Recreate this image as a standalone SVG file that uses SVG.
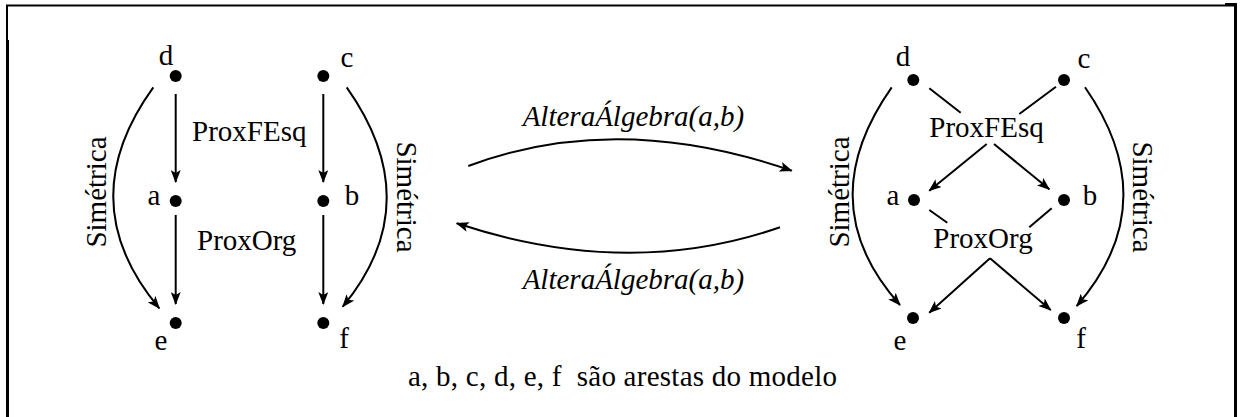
<svg xmlns="http://www.w3.org/2000/svg" width="1245" height="417" viewBox="0 0 1245 417" font-family="'Liberation Serif', Tinos, 'Times New Roman', 'DejaVu Serif', serif">
  <style>
    .lbl { font-family: 'Liberation Serif', Tinos, 'Times New Roman', 'DejaVu Serif', serif; font-size: 29px; fill: #000; }
    .it { font-style: italic; }
    .dot { fill: #000; }
    .edge { fill: none; stroke: #000; stroke-width: 2; }
    .frame { fill: none; stroke: #000; }
  </style>
  <defs>
    <marker id="arrow" markerUnits="userSpaceOnUse" markerWidth="14" markerHeight="10" refX="12" refY="5" orient="auto">
      <path d="M0,0 L13,5 L0,10 L3,5 z" fill="#000"/>
    </marker>
  </defs>
  <rect width="1245" height="417" fill="#fff"/>

  <!-- frame -->
  <g id="frame">
    <line class="frame" x1="6" y1="5.5" x2="1236" y2="5.5" stroke-width="2"/>
    <line class="frame" x1="1225" y1="4" x2="1237" y2="4" stroke-width="2"/>
    <line class="frame" x1="7" y1="5" x2="7" y2="40" stroke-width="2" stroke="#777"/>
    <line class="frame" x1="7.5" y1="40" x2="7.5" y2="417" stroke-width="3"/>
    <line class="frame" x1="1235.5" y1="3" x2="1235.5" y2="417" stroke-width="3"/>
  </g>

  <!-- left graph nodes -->
  <g id="L_d"><circle class="dot" cx="175.7" cy="76" r="6"/><text class="lbl" x="166" y="65" text-anchor="middle">d</text></g>
  <g id="L_c"><circle class="dot" cx="323.3" cy="76" r="6"/><text class="lbl" x="347" y="67" text-anchor="middle">c</text></g>
  <g id="L_a"><circle class="dot" cx="175.7" cy="201" r="6"/><text class="lbl" x="154" y="205" text-anchor="middle">a</text></g>
  <g id="L_b"><circle class="dot" cx="323.3" cy="201" r="6"/><text class="lbl" x="352" y="205" text-anchor="middle">b</text></g>
  <g id="L_e"><circle class="dot" cx="175.7" cy="323" r="6"/><text class="lbl" x="161" y="350" text-anchor="middle">e</text></g>
  <g id="L_f"><circle class="dot" cx="323.3" cy="323" r="6"/><text class="lbl" x="344" y="348" text-anchor="middle">f</text></g>

  <!-- right graph nodes -->
  <g id="R_d"><circle class="dot" cx="913.3" cy="80" r="6"/><text class="lbl" x="903" y="66" text-anchor="middle">d</text></g>
  <g id="R_c"><circle class="dot" cx="1064" cy="80" r="6"/><text class="lbl" x="1084" y="68" text-anchor="middle">c</text></g>
  <g id="R_a"><circle class="dot" cx="914" cy="200" r="6"/><text class="lbl" x="893" y="205" text-anchor="middle">a</text></g>
  <g id="R_b"><circle class="dot" cx="1064" cy="200" r="6"/><text class="lbl" x="1090" y="205" text-anchor="middle">b</text></g>
  <g id="R_e"><circle class="dot" cx="913" cy="318" r="6"/><text class="lbl" x="900" y="350" text-anchor="middle">e</text></g>
  <g id="R_f"><circle class="dot" cx="1064" cy="318" r="6"/><text class="lbl" x="1081" y="348" text-anchor="middle">f</text></g>

  <!-- connectors -->
  <g id="connectors">
    <!-- left graph -->
    <line class="edge" x1="175.7" y1="94" x2="175.7" y2="182" marker-end="url(#arrow)"/>
    <line class="edge" x1="175.7" y1="215" x2="175.7" y2="304" marker-end="url(#arrow)"/>
    <line class="edge" x1="323.3" y1="94" x2="323.3" y2="182" marker-end="url(#arrow)"/>
    <line class="edge" x1="323.3" y1="215" x2="323.3" y2="304" marker-end="url(#arrow)"/>
    <path class="edge" d="M153.3,87.3 Q70.3,202.2 159.3,308.3" marker-end="url(#arrow)"/>
    <path class="edge" d="M346.7,87.3 Q428.7,203 342.7,306.7" marker-end="url(#arrow)"/>

    <!-- transformation arrows -->
    <path class="edge" d="M468.3,166 Q616.6,110.2 791.7,170.7" marker-end="url(#arrow)"/>
    <path class="edge" d="M780,227.3 Q628.3,280.1 456.7,223.3" marker-end="url(#arrow)"/>

    <!-- right graph: d->b, c->a (broken by label) -->
    <line class="edge" x1="929.3" y1="88.3" x2="960.7" y2="112.7"/>
    <line class="edge" x1="994" y1="144" x2="1049.3" y2="189.3" marker-end="url(#arrow)"/>
    <line class="edge" x1="1056" y1="86.7" x2="1019.3" y2="114"/>
    <line class="edge" x1="986.7" y1="144" x2="929.3" y2="190.7" marker-end="url(#arrow)"/>
    <!-- right graph: a->f, b->e -->
    <line class="edge" x1="929.3" y1="210" x2="947.3" y2="222.7"/>
    <line class="edge" x1="990" y1="258.3" x2="1050.7" y2="310" marker-end="url(#arrow)"/>
    <line class="edge" x1="1051.7" y1="208.3" x2="1029.3" y2="227.3"/>
    <line class="edge" x1="990" y1="258.3" x2="929.3" y2="312.7" marker-end="url(#arrow)"/>
    <path class="edge" d="M891.7,87.3 Q809.6,203.9 900,305" marker-end="url(#arrow)"/>
    <path class="edge" d="M1085,87.3 Q1165.8,203.4 1076.7,306" marker-end="url(#arrow)"/>
  </g>

  <!-- edge labels -->
  <g id="labels">
    <text class="lbl" x="192" y="141">ProxFEsq</text>
    <text class="lbl" x="197" y="250">ProxOrg</text>
    <text class="lbl" transform="translate(106,192) rotate(-90)" text-anchor="middle">Simétrica</text>
    <text class="lbl" transform="translate(397,197) rotate(90)" text-anchor="middle">Simétrica</text>

    <text class="lbl it" x="633.4" y="126" text-anchor="middle">AlteraÁlgebra(a,b)</text>
    <text class="lbl it" x="633.4" y="289" text-anchor="middle">AlteraÁlgebra(a,b)</text>

    <text class="lbl" x="986.5" y="137" text-anchor="middle">ProxFEsq</text>
    <text class="lbl" x="983" y="248" text-anchor="middle">ProxOrg</text>
    <text class="lbl" transform="translate(849,192) rotate(-90)" text-anchor="middle">Simétrica</text>
    <text class="lbl" transform="translate(1133,197) rotate(90)" text-anchor="middle">Simétrica</text>

    <text class="lbl" x="408" y="386" xml:space="preserve" textLength="429" lengthAdjust="spacing">a, b, c, d, e, f  são arestas do modelo</text>
  </g>
</svg>
